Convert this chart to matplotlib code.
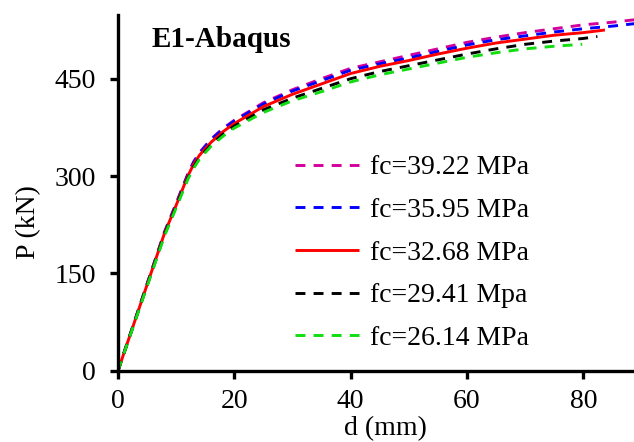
import matplotlib
matplotlib.use("Agg")
import matplotlib.pyplot as plt

plt.rcParams['font.family'] = ['Liberation Serif', 'DejaVu Serif']
plt.rcParams['mathtext.fontset'] = 'stix'

# Load-displacement curves (d in mm, P in kN) for each concrete strength
d_3922 = [0, 4, 8, 10, 12, 13, 14, 16, 18, 20, 25, 30, 35, 40, 45, 50, 55, 60, 65, 70, 75, 80, 85, 89]
p_3922 = [0, 107, 214, 258, 303, 322, 336, 357, 373, 386, 413, 433, 450, 466, 476, 486, 496, 506, 514, 521, 527, 533, 537, 541]

d_3595 = [0, 4, 8, 10, 12, 13, 14, 16, 18, 20, 25, 30, 35, 40, 45, 50, 55, 60, 65, 70, 75, 80, 85, 89]
p_3595 = [0, 107, 213, 257, 302, 321, 335, 356, 372, 385, 411, 431, 447, 463, 473, 482, 492, 502, 510, 516, 522, 527, 531, 535]

d_3268 = [0, 4, 8, 10, 12, 13, 14, 16, 18, 20, 25, 30, 35, 40, 45, 50, 55, 60, 65, 70, 75, 80, 83.7]
p_3268 = [0, 106, 212, 255, 300, 318, 332, 352, 368, 381, 407, 426, 442, 458, 469, 478, 488, 497, 505, 511, 517, 521, 525]

d_2941 = [0, 4, 8, 10, 12, 13, 14, 16, 18, 20, 25, 30, 35, 40, 45, 50, 55, 60, 65, 70, 75, 80, 82.4]
p_2941 = [0, 105, 210, 253, 297, 314, 328, 348, 364, 377, 402, 420, 435, 450, 461, 470, 479, 488, 496, 503, 508, 512, 515]

d_2614 = [0, 4, 8, 10, 12, 13, 14, 16, 18, 20, 25, 30, 35, 40, 45, 50, 55, 60, 65, 70, 75, 79.8]
p_2614 = [0, 104, 208, 251, 295, 312, 326, 346, 361, 374, 398, 416, 430, 445, 456, 465, 474, 483, 490, 496, 500, 503]

labels = ['fc=39.22 MPa', 'fc=35.95 MPa', 'fc=32.68 MPa', 'fc=29.41 Mpa', 'fc=26.14 MPa']
colors = ['#d4009c', '#0000ff', '#ff0000', '#000000', '#11dd11']
styles = ['--', '--', '-', '--', '--']

x_ticks = [0, 20, 40, 60, 80]
y_ticks = [0, 150, 300, 450]

fig = plt.figure(figsize=(6.34, 4.42), dpi=100)
ax = fig.add_axes([118 / 634, 1 - 370.7 / 442, 516 / 634, 356 / 442])

series = [(d_3922, p_3922), (d_3595, p_3595), (d_3268, p_3268), (d_2941, p_2941), (d_2614, p_2614)]
for (d, p), lab, c, ls in zip(series, labels, colors, styles):
    kw = dict(color=c, lw=2.1, label=lab, solid_capstyle='butt', dash_capstyle='butt')
    if ls == '--':
        kw['dashes'] = (3.4, 2.8)
    ax.plot(d, p, **kw)

ax.set_xlim(0, 88.7)
ax.set_ylim(0, 548.6)
ax.set_xticks(x_ticks)
ax.set_yticks(y_ticks)

for side in ('top', 'right'):
    ax.spines[side].set_visible(False)
for side in ('left', 'bottom'):
    ax.spines[side].set_linewidth(2.4)
ax.tick_params(axis='both', direction='out', length=6, width=2.4, labelsize=20)
ax.tick_params(axis='y', pad=10)
ax.tick_params(axis='x', pad=7)

ax.set_xlabel('d (mm)', fontsize=20)
ax.set_ylabel('P (kN)', fontsize=20)
ax.xaxis.set_label_coords((385 - 118) / 516, -0.128)
ax.yaxis.set_label_coords(-0.149, 0.418)

ax.text(0.066, 0.91, 'E1-Abaqus', transform=ax.transAxes, fontsize=21,
        fontweight='bold', va='baseline', ha='left')

leg = ax.legend(loc='upper left', bbox_to_anchor=((301 - 118) / 516 - 0.012, (370.7 - 155) / 356),
                frameon=False, fontsize=20, handlelength=2.3, handletextpad=0.4,
                labelspacing=0.62, borderaxespad=0, borderpad=0)

fig.savefig('out.png', dpi=100)
